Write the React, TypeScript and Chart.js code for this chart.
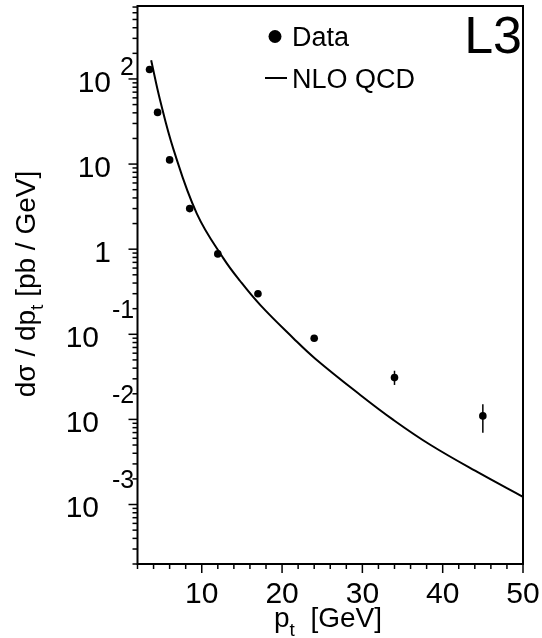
import React, { useEffect, useRef } from 'react';
import { Chart, registerables } from 'chart.js';

Chart.register(...registerables);

// ---- data ----
const dataPt = [3.5, 4.5, 6, 8.5, 12, 17, 24, 34, 45];
const dataVal = [129, 40.5, 11.2, 3.0, 0.88, 0.30, 0.090, 0.031, 0.011];
const dataErrLow: (number | null)[] = [null, null, null, null, null, null, null, 0.0254, 0.00695];
const dataErrHigh: (number | null)[] = [null, null, null, null, null, null, null, 0.0373, 0.0151];

const nloPt = [3.7, 4.8, 6.5, 9.4, 12.7, 14.8, 17.3, 21.4, 24.1, 29.7, 33.9, 38.5, 44.7, 50];
const nloVal = [166, 57, 14.7, 2.6, 0.78, 0.42, 0.22, 0.09, 0.052, 0.0195, 0.0098, 0.005, 0.0023, 0.00123];

const xMin = 2;
const xMax = 50;
const yMin = 2e-4;
const yMax = 720;
const xTickLabels = [10, 20, 30, 40, 50];
const xMinorStep = 2;
const yTickValues = [100, 10, 1, 0.1, 0.01, 0.001];
const yTickBases = ['10', '10', '1', '10', '10', '10'];
const yTickExps = ['2', '', '', '-1', '-2', '-3'];

const seriesNames = ['Data', 'NLO QCD'];
const xTitle = ['p', 't', '  [GeV]'];
const yTitle = ['d\u03c3 / dp', 't', ' [pb / GeV]'];
const experiment = 'L3';

const FONT = "'Liberation Sans', Arial, Helvetica, sans-serif";

const customPlugin = {
  id: 'rootStyle',
  beforeDatasetsDraw(chart: any) {
    const ctx = chart.ctx;
    const xs = chart.scales.x;
    const ys = chart.scales.y;
    ctx.save();
    ctx.strokeStyle = '#000';
    ctx.lineWidth = 1.5;
    for (let i = 0; i < dataPt.length; i++) {
      const lo = dataErrLow[i];
      const hi = dataErrHigh[i];
      if (lo == null || hi == null) continue;
      const px = xs.getPixelForValue(dataPt[i]);
      ctx.beginPath();
      ctx.moveTo(px, ys.getPixelForValue(lo));
      ctx.lineTo(px, ys.getPixelForValue(hi));
      ctx.stroke();
    }
    ctx.restore();
  },
  afterDraw(chart: any) {
    const ctx = chart.ctx;
    const xs = chart.scales.x;
    const ys = chart.scales.y;
    const a = chart.chartArea;
    ctx.save();
    ctx.strokeStyle = '#000';
    ctx.fillStyle = '#000';

    // frame
    ctx.lineWidth = 2;
    ctx.strokeRect(a.left, a.top, a.right - a.left, a.bottom - a.top);

    // x ticks
    ctx.lineWidth = 1.5;
    for (let v = xMin; v <= xMax + 1e-9; v += xMinorStep) {
      const px = xs.getPixelForValue(v);
      const major = Math.abs(v % 10) < 1e-9;
      ctx.beginPath();
      ctx.moveTo(px, a.bottom);
      ctx.lineTo(px, a.bottom + (major ? 9 : 5));
      ctx.stroke();
    }
    // y ticks
    for (let e = -5; e <= 3; e++) {
      for (let k = 1; k <= 9; k++) {
        const v = k * Math.pow(10, e);
        if (v < yMin * 0.999 || v > yMax * 1.001) continue;
        const py = ys.getPixelForValue(v);
        ctx.beginPath();
        ctx.moveTo(a.left, py);
        ctx.lineTo(a.left - (k === 1 ? 9 : 5), py);
        ctx.stroke();
      }
    }

    // x tick labels
    ctx.font = `30px ${FONT}`;
    ctx.textAlign = 'center';
    ctx.textBaseline = 'alphabetic';
    xTickLabels.forEach((v) => {
      ctx.fillText(String(v), xs.getPixelForValue(v), 603);
    });

    // y tick labels (10 with exponent)
    yTickValues.forEach((v, i) => {
      const py = ys.getPixelForValue(v);
      const exp = yTickExps[i];
      const neg = exp.startsWith('-');
      ctx.font = `30px ${FONT}`;
      ctx.textAlign = 'right';
      ctx.fillText(yTickBases[i], neg ? 99 : 111, py + 12.7);
      if (exp) {
        ctx.font = `25px ${FONT}`;
        ctx.textAlign = 'left';
        ctx.fillText(exp, neg ? 112 : 120, neg ? py - 16.5 : py - 4.3);
      }
    });

    // x title
    ctx.textAlign = 'left';
    ctx.font = `28px ${FONT}`;
    let x0 = 274;
    ctx.fillText(xTitle[0], x0, 627);
    x0 += ctx.measureText(xTitle[0]).width;
    ctx.font = `19px ${FONT}`;
    ctx.fillText(xTitle[1], x0, 636);
    x0 += ctx.measureText(xTitle[1]).width;
    ctx.font = `28px ${FONT}`;
    ctx.fillText(xTitle[2], x0, 627);

    // y title (rotated)
    ctx.save();
    ctx.font = `28px ${FONT}`;
    const w0 = ctx.measureText(yTitle[0]).width;
    const w2 = ctx.measureText(yTitle[2]).width;
    ctx.font = `19px ${FONT}`;
    const w1 = ctx.measureText(yTitle[1]).width;
    const total = w0 + w1 + w2;
    ctx.translate(35, 284 + total / 2);
    ctx.rotate(-Math.PI / 2);
    ctx.font = `28px ${FONT}`;
    ctx.fillText(yTitle[0], 0, 0);
    ctx.font = `19px ${FONT}`;
    ctx.fillText(yTitle[1], w0, 8);
    ctx.font = `28px ${FONT}`;
    ctx.fillText(yTitle[2], w0 + w1, 0);
    ctx.restore();

    // legend
    ctx.beginPath();
    ctx.arc(275, 36.5, 6.5, 0, Math.PI * 2);
    ctx.fill();
    ctx.font = `27px ${FONT}`;
    ctx.textAlign = 'left';
    ctx.fillText(seriesNames[0], 292, 45.5);
    ctx.lineWidth = 2;
    ctx.beginPath();
    ctx.moveTo(265, 78);
    ctx.lineTo(287, 78);
    ctx.stroke();
    ctx.fillText(seriesNames[1], 292, 87.5);

    // experiment label
    ctx.font = `52px ${FONT}`;
    ctx.textAlign = 'right';
    ctx.fillText(experiment, 522, 53);

    ctx.restore();
  },
};

export default function App() {
  const ref = useRef<HTMLCanvasElement | null>(null);
  useEffect(() => {
    if (!ref.current) return;
    const chart = new Chart(ref.current, {
      type: 'scatter',
      data: {
        datasets: [
          {
            label: seriesNames[0],
            data: dataPt.map((x, i) => ({ x, y: dataVal[i] })),
            showLine: false,
            pointRadius: 3.8,
            pointBackgroundColor: '#000',
            pointBorderColor: '#000',
            pointBorderWidth: 0,
          },
          {
            label: seriesNames[1],
            data: nloPt.map((x, i) => ({ x, y: nloVal[i] })),
            showLine: true,
            pointRadius: 0,
            borderColor: '#000',
            borderWidth: 2,
            tension: 0.4,
            fill: false,
          },
        ],
      } as any,
      options: {
        responsive: true,
        maintainAspectRatio: false,
        animation: false,
        layout: { padding: { left: 137.5, top: 6, right: 19, bottom: 74 } },
        scales: {
          x: { type: 'linear', min: xMin, max: xMax, display: false },
          y: { type: 'logarithmic', min: yMin, max: yMax, display: false },
        },
        plugins: {
          legend: { display: false },
          tooltip: { enabled: false },
        },
      } as any,
      plugins: [customPlugin],
    });
    return () => chart.destroy();
  }, []);
  return (
    <div style={{ position: 'fixed', left: 0, top: 0, width: 542, height: 638, background: '#fff' }}>
      <canvas ref={ref} />
    </div>
  );
}
